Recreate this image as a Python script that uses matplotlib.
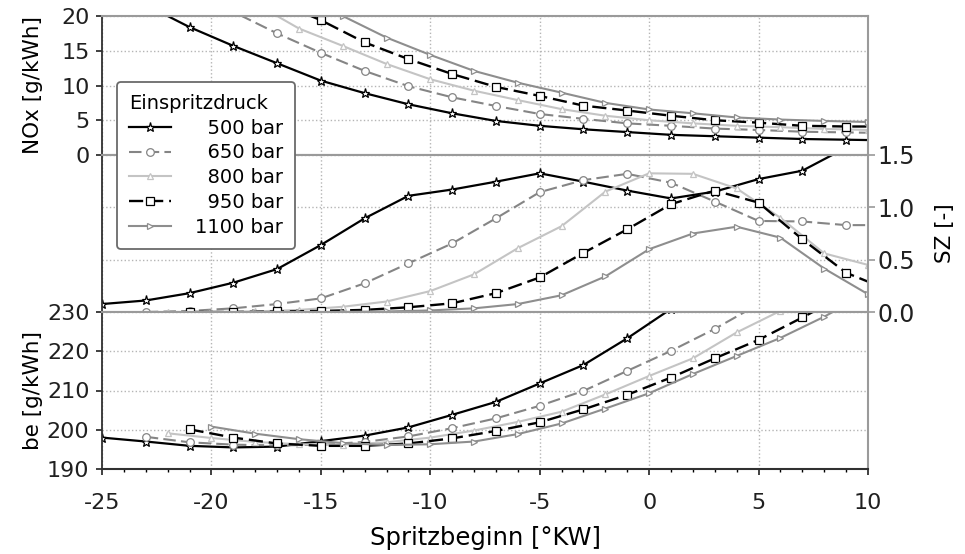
import matplotlib.pyplot as plt
from matplotlib.ticker import MultipleLocator

plt.rcParams['font.family'] = ['DejaVu Sans']
plt.rcParams['axes.unicode_minus'] = False

# Spritzbeginn [°KW] per injection pressure
x_500 = [-25, -23, -21, -19, -17, -15, -13, -11, -9, -7, -5, -3, -1, 1, 3, 5, 7, 9, 10]
x_650 = [-23, -21, -19, -17, -15, -13, -11, -9, -7, -5, -3, -1, 1, 3, 5, 7, 9, 10]
x_800 = [-22, -20, -18, -16, -14, -12, -10, -8, -6, -4, -2, 0, 2, 4, 6, 8, 10]
x_950 = [-21, -19, -17, -15, -13, -11, -9, -7, -5, -3, -1, 1, 3, 5, 7, 9, 10]
x_1100 = [-20, -18, -16, -14, -12, -10, -8, -6, -4, -2, 0, 2, 4, 6, 8, 10]

# NOx [g/kWh]
nox_500 = [24.5, 21.6, 18.4, 15.7, 13.2, 10.7, 8.9, 7.3, 6.0, 4.9, 4.2, 3.7, 3.3, 2.9, 2.7, 2.5, 2.3, 2.2, 2.15]
nox_650 = [27.0, 23.8, 20.6, 17.5, 14.7, 12.1, 9.9, 8.3, 7.05, 5.9, 5.2, 4.55, 4.2, 3.8, 3.6, 3.35, 3.25, 3.2]
nox_800 = [29.0, 25.5, 21.8, 18.2, 15.7, 13.1, 10.9, 9.25, 7.9, 6.6, 5.65, 5.0, 4.55, 4.2, 4.0, 3.75, 3.6]
nox_950 = [27.5, 24.8, 22.0, 19.4, 16.2, 13.8, 11.65, 9.8, 8.5, 7.1, 6.4, 5.65, 5.0, 4.65, 4.2, 4.1, 4.1]
nox_1100 = [30.0, 26.5, 23.2, 20.0, 16.9, 14.4, 12.1, 10.4, 8.97, 7.5, 6.55, 6.0, 5.4, 5.1, 4.9, 4.75]

# SZ [-]
sz_500 = [0.076, 0.11, 0.18, 0.28, 0.41, 0.64, 0.895, 1.11, 1.17, 1.245, 1.325, 1.245, 1.16, 1.085, 1.15, 1.27, 1.35, 1.57, 1.75]
sz_650 = [0.0, 0.01, 0.035, 0.076, 0.13, 0.274, 0.465, 0.655, 0.895, 1.145, 1.26, 1.32, 1.235, 1.055, 0.87, 0.865, 0.83, 0.83]
sz_800 = [0.0, 0.0, 0.005, 0.02, 0.05, 0.1, 0.2, 0.36, 0.61, 0.82, 1.15, 1.325, 1.32, 1.18, 0.9, 0.56, 0.45]
sz_950 = [0.0, 0.0, 0.005, 0.01, 0.02, 0.045, 0.083, 0.18, 0.33, 0.565, 0.79, 1.03, 1.16, 1.045, 0.695, 0.375, 0.29]
sz_1100 = [0.0, 0.0, 0.0, 0.0, 0.005, 0.015, 0.035, 0.076, 0.16, 0.34, 0.6, 0.75, 0.815, 0.71, 0.415, 0.17]

# be [g/kWh]
be_500 = [198.0, 197.0, 195.9, 195.5, 195.7, 197.1, 198.5, 200.6, 203.8, 207.1, 211.8, 216.5, 223.3, 230.8, 239, 248, 258, 268, 273]
be_650 = [198.2, 196.8, 196.2, 196.0, 196.2, 196.9, 198.3, 200.4, 202.9, 206.1, 209.9, 215.0, 220.1, 225.7, 232.0, 239, 246, 250]
be_800 = [199.1, 197.9, 196.9, 196.3, 196.2, 196.8, 198.0, 199.8, 202.0, 204.6, 209.0, 213.7, 218.2, 224.8, 230.3, 237, 244]
be_950 = [200.1, 198.0, 196.5, 195.9, 195.9, 196.5, 197.8, 199.7, 201.9, 205.2, 208.9, 213.3, 218.2, 222.9, 228.6, 234.5, 237.5]
be_1100 = [200.8, 199.0, 197.6, 196.6, 196.1, 196.3, 197.0, 198.9, 201.6, 205.4, 209.3, 214.2, 218.8, 223.4, 228.8, 235.0]

labels = ['500 bar', '650 bar', '800 bar', '950 bar', '1100 bar']
xs = [x_500, x_650, x_800, x_950, x_1100]
nox = [nox_500, nox_650, nox_800, nox_950, nox_1100]
sz = [sz_500, sz_650, sz_800, sz_950, sz_1100]
be = [be_500, be_650, be_800, be_950, be_1100]

styles = [
    dict(color='black', lw=1.6, ls='-', marker='*', ms=6.5, mfc='white', mec='black', mew=0.9),
    dict(color='#858585', lw=1.5, ls=(0, (6, 2.5)), marker='o', ms=5.5, mfc='white', mec='#858585', mew=0.9),
    dict(color='#c4c4c4', lw=1.5, ls='-', marker='^', ms=4.5, mfc='white', mec='#c4c4c4', mew=0.9),
    dict(color='black', lw=1.7, ls=(0, (6, 2.5)), marker='s', ms=5.5, mfc='white', mec='black', mew=0.9),
    dict(color='#8e8e8e', lw=1.5, ls='-', marker='>', ms=4.5, mfc='white', mec='#8e8e8e', mew=0.9),
]

fig = plt.figure(figsize=(9.65, 5.54), dpi=100)
L, W = 102 / 965, 766 / 965
ax_top = fig.add_axes([L, 1 - 155 / 554, W, 139 / 554])
ax_mid = fig.add_axes([L, 1 - 312 / 554, W, 157 / 554])
ax_bot = fig.add_axes([L, 1 - 469 / 554, W, 157 / 554])

handles = []
for x, n, s, b, st, lab in zip(xs, nox, sz, be, styles, labels):
    # markers on the odd/even grid, the last point at 10 only closes the line
    me = list(range(len(x))) if x[-2] == 8 else list(range(len(x) - 1))
    h, = ax_top.plot(x, n, markevery=me, label=lab, **st)
    ax_mid.plot(x, s, markevery=me, **st)
    ax_bot.plot(x, b, markevery=me, **st)
    handles.append(h)

gray = '#9a9a9a'
for ax in (ax_top, ax_mid, ax_bot):
    ax.set_xlim(-25, 10)
    ax.set_xticks(range(-25, 11, 5))
    ax.grid(True, which='major', color='#b5b5b5', ls=':', lw=1.0)
    ax.set_axisbelow(True)
    for side in ('top', 'right', 'bottom'):
        ax.spines[side].set_color(gray)
        ax.spines[side].set_linewidth(1.5)
    ax.spines['left'].set_color('#303030')
    ax.spines['left'].set_linewidth(1.3)
    ax.tick_params(labelsize=16, colors='#202020')

ax_top.set_ylim(0, 20)
ax_top.set_yticks([0, 5, 10, 15, 20])
ax_top.tick_params(axis='x', length=0, labelbottom=False)
ax_top.tick_params(axis='y', length=4, width=1.2, pad=5)
ax_top.set_ylabel('NOx [g/kWh]', fontsize=15.5)
ax_top.yaxis.set_label_coords(-0.077, 0.5)

ax_mid.set_ylim(0, 1.5)
ax_mid.set_yticks([0, 0.5, 1.0, 1.5])
ax_mid.set_yticklabels(['0.0', '0.5', '1.0', '1.5'])
ax_mid.yaxis.tick_right()
ax_mid.yaxis.set_label_position('right')
ax_mid.tick_params(axis='x', length=0, labelbottom=False)
ax_mid.tick_params(axis='y', length=5, width=1.2, pad=2, color=gray, labelsize=17)
ax_mid.set_ylabel('SZ [-]', fontsize=15.5)
ax_mid.yaxis.set_label_coords(1.087, 0.5)

ax_bot.set_ylim(190, 230)
ax_bot.set_yticks([190, 200, 210, 220, 230])
ax_bot.xaxis.set_minor_locator(MultipleLocator(1))
ax_bot.tick_params(axis='y', length=4, width=1.2, pad=5)
ax_bot.tick_params(axis='x', which='major', length=4.5, width=1.2, pad=13)
ax_bot.tick_params(axis='x', which='minor', length=2.5, width=1.0)
ax_bot.spines['bottom'].set_color('#303030')
ax_bot.set_xlabel('Spritzbeginn [°KW]', fontsize=17.5)
ax_bot.xaxis.set_label_coords(0.5, -0.365)
ax_bot.set_ylabel('be [g/kWh]', fontsize=15.5)
ax_bot.yaxis.set_label_coords(-0.077, 0.5)

leg = fig.legend(handles, ['  500 bar', '  650 bar', '  800 bar', '  950 bar', '1100 bar'],
                 title='Einspritzdruck', loc='upper left',
                 bbox_to_anchor=(117 / 965, 1 - 82 / 554), bbox_transform=fig.transFigure,
                 fontsize=14, title_fontsize=14, alignment='left',
                 handlelength=2.2, handletextpad=1.2, labelspacing=0.3,
                 borderpad=0.6, borderaxespad=0, fancybox=True, framealpha=1)
leg.get_frame().set_edgecolor('#6a6a6a')
leg.get_frame().set_linewidth(1.3)

fig.savefig('out.png', dpi=100)
